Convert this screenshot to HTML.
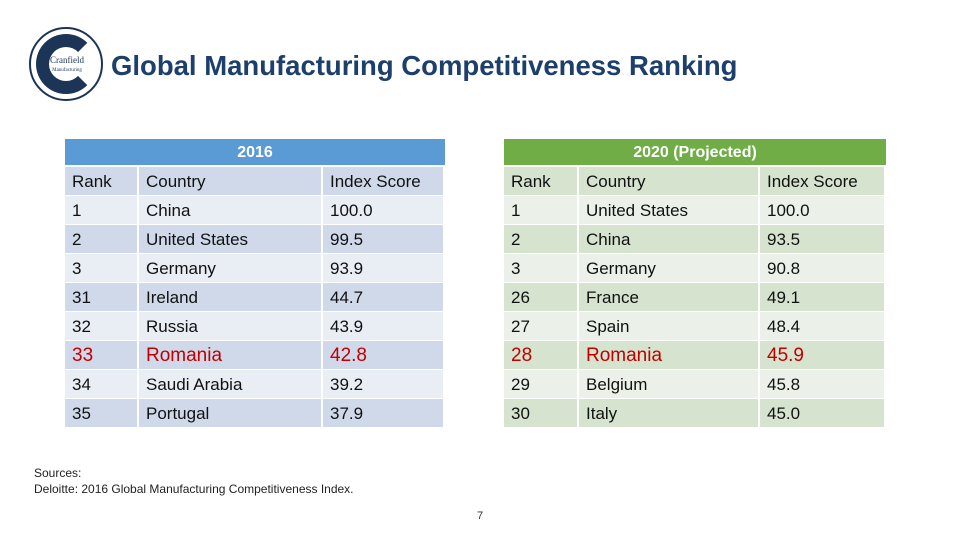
<!DOCTYPE html>
<html><head><meta charset="utf-8"><style>
body{margin:0;width:960px;height:540px;background:#fff;position:relative;font-family:"Liberation Sans",Arial,sans-serif;overflow:hidden}
.a{position:absolute;box-sizing:border-box}
.c{position:absolute;box-sizing:border-box;padding-left:7px;padding-top:2px;font-size:17px;color:#111;display:flex;align-items:center}
.hl{color:#c00000;font-size:19px}
.h{position:absolute;color:#fff;font-weight:bold;font-size:16px;display:flex;align-items:center;justify-content:center;padding-top:2px;box-sizing:border-box}
</style></head><body>
<div class="a" style="left:29px;top:27px;width:74px;height:74px;border-radius:50%;border:2px solid #1c3557;background:#fff">
 <div class="a" style="left:5px;top:5px;width:60px;height:60px;border-radius:50%;border:13px solid #1c3557;border-right-color:transparent"></div>
 <div class="a" style="left:12px;top:27px;width:48px;text-align:center;font-family:'Liberation Serif',serif;font-size:9px;color:#1c3557;line-height:8px">Cranfield<br><span style="font-size:5px">Manufacturing</span></div>
</div>
<div class="a" style="left:111px;top:50px;font-size:27.5px;font-weight:bold;color:#1c3f6b">Global Manufacturing Competitiveness Ranking</div>
<div id="t"></div>
<div class="a" style="left:34px;top:465px;font-size:12px;color:#222;line-height:16px">Sources:<br>Deloitte: 2016 Global Manufacturing Competitiveness Index.</div>
<div class="a" style="left:477px;top:510px;font-size:11px;color:#333">7</div>
<script>
const left=[["Rank","Country","Index Score"],["1","China","100.0"],["2","United States","99.5"],["3","Germany","93.9"],["31","Ireland","44.7"],["32","Russia","43.9"],["33","Romania","42.8"],["34","Saudi Arabia","39.2"],["35","Portugal","37.9"]];
const right=[["Rank","Country","Index Score"],["1","United States","100.0"],["2","China","93.5"],["3","Germany","90.8"],["26","France","49.1"],["27","Spain","48.4"],["28","Romania","45.9"],["29","Belgium","45.8"],["30","Italy","45.0"]];
const t=document.getElementById('t');
function table(data,x,cols,hdr,hc,dark,light,name){
 const h=document.createElement('div');h.className='h';
 
 
 h.style.cssText=`left:${x}px;top:139px;width:${cols[cols.length-1]}px;height:26px;background:${hc}`;h.textContent=hdr;t.appendChild(h);
 data.forEach((r,i)=>{r.forEach((v,j)=>{const d=document.createElement('div');d.className='c'+(r[1]==='Romania'?' hl':'');
 
 
 d.style.left=(x+cols[j])+'px';d.style.top=(167+i*29)+'px';d.style.width=(cols[j+1]-cols[j]-2)+'px';d.style.height='28px';d.style.background=i%2==0?dark:light;d.textContent=v;t.appendChild(d);});});
}
table(left,65,[0,74,258,380],'2016','#5b9bd5','#cfd9ea','#e9edf4','table-2016');
table(right,504,[0,75,256,382],'2020 (Projected)','#70ad47','#d5e3cf','#ebf1e9','table-2020');
</script>
</body></html>
